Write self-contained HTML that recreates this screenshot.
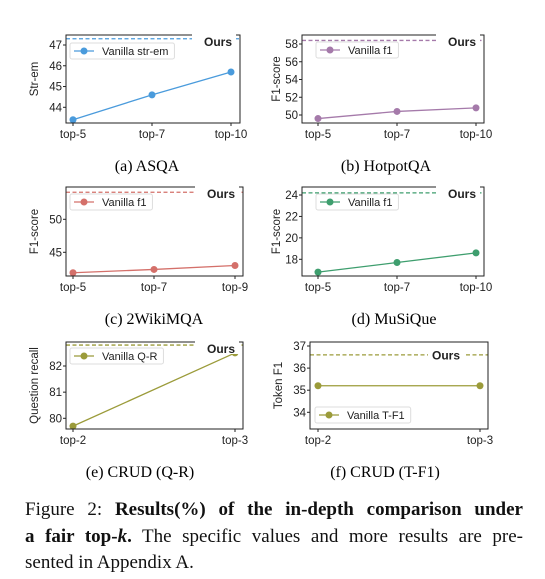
<!DOCTYPE html>
<html><head><meta charset="utf-8"><style>
body{margin:0;background:#fff;width:545px;height:579px;overflow:hidden;position:relative}
svg{position:absolute;left:0;top:0}
.cap{position:absolute;font-family:"Liberation Serif",serif;font-size:16px;color:#000;transform:translate(-50%,-50%);white-space:nowrap}
.fl{position:absolute;left:25px;width:498px;font-family:"Liberation Serif",serif;font-size:19px;line-height:26px;color:#111;white-space:nowrap}
.j{text-align:justify;text-align-last:justify}
</style></head><body>
<svg id="chart" width="545" height="579"></svg>
<div class="cap" style="left:147px;top:167px">(a) ASQA</div>
<div class="cap" style="left:386px;top:167px">(b) HotpotQA</div>
<div class="cap" style="left:154px;top:320px">(c) 2WikiMQA</div>
<div class="cap" style="left:394px;top:320px">(d) MuSiQue</div>
<div class="cap" style="left:140px;top:473px">(e) CRUD (Q-R)</div>
<div class="cap" style="left:385px;top:473px">(f) CRUD (T-F1)</div>
<div>
<div class="fl j" style="top:497px">Figure 2: <b>Results(%) of the in-depth comparison under</b></div>
<div class="fl j" style="top:524px"><b>a fair top-<i>k</i>.</b> The specific values and more results are pre-</div>
<div class="fl" style="top:550px">sented in Appendix A.</div>
</div>
<script>
const catsA=["top-5","top-7","top-10"], valsA=[43.4,44.6,45.7], oursA=47.3, ticksA=[44,45,46,47];
const catsB=["top-5","top-7","top-10"], valsB=[49.6,50.4,50.8], oursB=58.4, ticksB=[50,52,54,56,58];
const catsC=["top-5","top-7","top-9"], valsC=[41.9,42.4,43.0], oursC=54.1, ticksC=[45,50];
const catsD=["top-5","top-7","top-10"], valsD=[16.8,17.7,18.6], oursD=24.2, ticksD=[18,20,22,24];
const catsE=["top-2","top-3"], valsE=[79.7,82.5], oursE=82.8, ticksE=[80,81,82];
const catsF=["top-2","top-3"], valsF=[35.2,35.2], oursF=36.6, ticksF=[34,35,36,37];

const NS="http://www.w3.org/2000/svg", svg=document.getElementById('chart');
function mk(t,a,p){const e=document.createElementNS(NS,t);for(const k in a)e.setAttribute(k,a[k]);(p||svg).appendChild(e);return e;}
function panel(id,cfg){
  const g=mk('g',{});
  
  
  const {L,R,T,B,x0,x1,t0,y0,t1,y1,cats,vals,ours,ticks,color,ylabel,legend,legendPos,oursInside}=cfg;
  const ys=v=>y0+(v-t0)*(y1-y0)/(t1-t0);
  const xs=i=>x0+i*(x1-x0)/(cats.length-1);
  const oy=ys(ours);
  const ol=mk('line',{x1:L,x2:R,y1:oy,y2:oy,stroke:color,'stroke-width':1.3,'stroke-dasharray':'4,2.5'},g);
  
  
  const pts=vals.map((v,i)=>xs(i)+','+ys(v)).join(' ');
  const pl=mk('polyline',{points:pts,fill:'none',stroke:color,'stroke-width':1.3},g);
  
  
  vals.forEach((v,i)=>{const c=mk('circle',{cx:xs(i),cy:ys(v),r:3.5,fill:color},g);
    
    });
  const fr=mk('rect',{x:L,y:T,width:R-L,height:B-T,fill:'none',stroke:'#222','stroke-width':1},g);
  
  
  if(oursInside){
    mk('rect',{x:R-60,y:oy-7,width:36,height:14,fill:'#fff'},g);
    const t=mk('text',{x:R-42,y:oy+4.5,'text-anchor':'middle','font-weight':'bold','font-size':12},g);t.textContent='Ours';
    
  } else {
    mk('rect',{x:R-48,y:T-3,width:44,height:15,fill:'#fff'},g);
    const t=mk('text',{x:R-22,y:T+11,'text-anchor':'middle','font-weight':'bold','font-size':12},g);t.textContent='Ours';
    
  }
  ticks.forEach(v=>{const y=ys(v);mk('line',{x1:L-3,x2:L,y1:y,y2:y,stroke:'#222'},g);
    const t=mk('text',{x:L-4,y:y+4,'text-anchor':'end','font-size':11.5},g);t.textContent=v;
    });
  cats.forEach((c,i)=>{const x=xs(i);mk('line',{x1:x,x2:x,y1:B,y2:B+3,stroke:'#222'},g);
    const t=mk('text',{x:x,y:B+15,'text-anchor':'middle','font-size':11.5},g);t.textContent=c;
    });
  const yl=mk('text',{x:0,y:0,'text-anchor':'middle','font-size':11.5,transform:`translate(${cfg.ylx},${(T+B)/2}) rotate(-90)`},g);
  yl.textContent=ylabel;
  
  const [lx,ly]=legendPos;
  const lg=mk('g',{},g);
  
  
  const box=mk('rect',{x:lx,y:ly,width:60,height:16,rx:2,fill:'#fff',stroke:'#ddd'},lg);
  mk('line',{x1:lx+4,x2:lx+24,y1:ly+8,y2:ly+8,stroke:color,'stroke-width':1.3},lg);
  mk('circle',{cx:lx+14,cy:ly+8,r:3.5,fill:color},lg);
  const lt=mk('text',{x:lx+32,y:ly+12,'font-size':11},lg);lt.textContent=legend;
  box.setAttribute('width',lt.getComputedTextLength()+38);
}
svg.setAttribute('font-family','"Liberation Sans", "DejaVu Sans", sans-serif');
svg.setAttribute('fill','#222');
panel('a',{L:66,R:240,T:35,B:123,x0:73,x1:231,t0:47,y0:45,t1:44,y1:107.3,cats:catsA,vals:valsA,ours:oursA,ticks:ticksA,color:'#4a9bdc',ylabel:'Str-em',ylx:38,legend:'Vanilla str-em',legendPos:[70,43]});
panel('b',{L:302,R:484,T:35,B:123,x0:318,x1:476,t0:58,y0:44,t1:50,y1:115,cats:catsB,vals:valsB,ours:oursB,ticks:ticksB,color:'#a57aaa',ylabel:'F1-score',ylx:280,legend:'Vanilla f1',legendPos:[316,42]});
panel('c',{L:66,R:243,T:187,B:276,x0:73,x1:235,t0:50,y0:219.3,t1:45,y1:252.3,cats:catsC,vals:valsC,ours:oursC,ticks:ticksC,color:'#d4706a',ylabel:'F1-score',ylx:38,legend:'Vanilla f1',legendPos:[70,194]});
panel('d',{L:302,R:484,T:187,B:276,x0:318,x1:476,t0:24,y0:195,t1:18,y1:259.3,cats:catsD,vals:valsD,ours:oursD,ticks:ticksD,color:'#3e9e6e',ylabel:'F1-score',ylx:280,legend:'Vanilla f1',legendPos:[316,194]});
panel('e',{L:66,R:243,T:342,B:429,x0:73,x1:235,t0:82,y0:366,t1:80,y1:418.3,cats:catsE,vals:valsE,ours:oursE,ticks:ticksE,color:'#9b9b3a',ylabel:'Question recall',ylx:38,legend:'Vanilla Q-R',legendPos:[70,348]});
panel('f',{L:310,R:488,T:342,B:429,x0:318,x1:480,t0:37,y0:346,t1:34,y1:412.3,cats:catsF,vals:valsF,ours:oursF,ticks:ticksF,color:'#9b9b3a',ylabel:'Token F1',ylx:282,legend:'Vanilla T-F1',legendPos:[315,407],oursInside:true});
</script>
</body></html>
